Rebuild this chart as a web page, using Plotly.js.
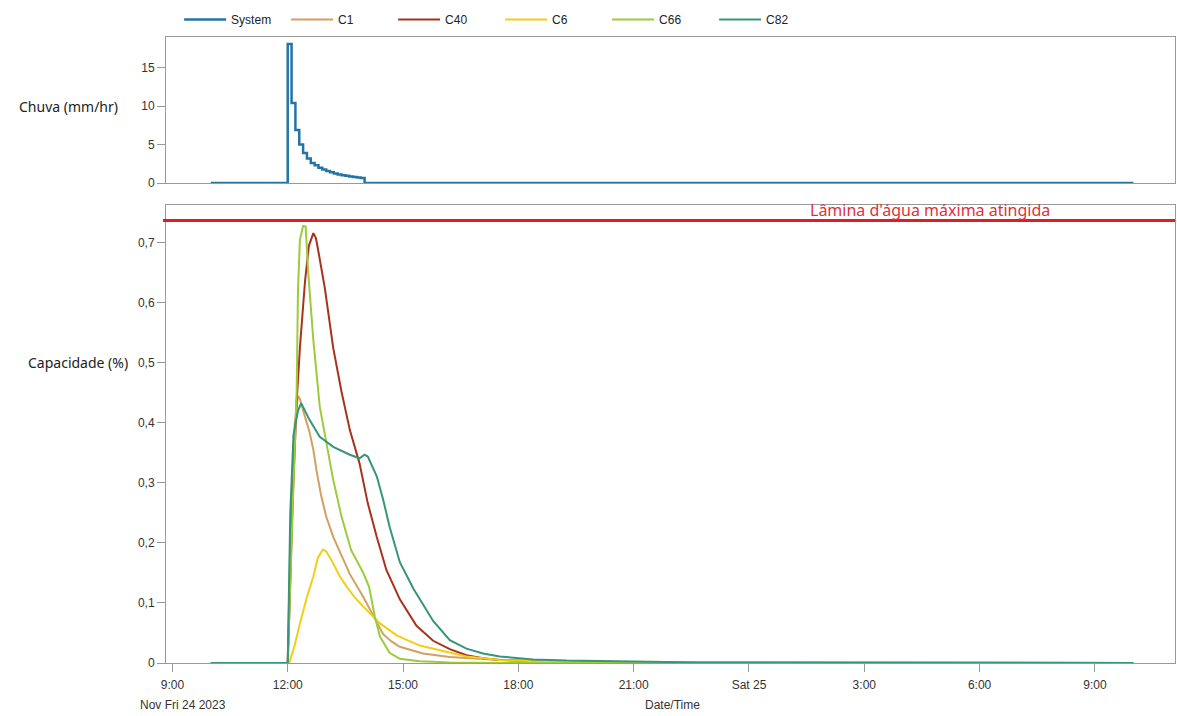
<!DOCTYPE html>
<html>
<head>
<meta charset="utf-8">
<script src="https://cdn.plot.ly/plotly-3.0.1.min.js"></script>
<style>html,body{margin:0;padding:0;background:#fff;}#chart{width:1177px;height:716px;}</style>
</head>
<body>
<div id="chart"></div>
<script>
// ---- Data (time in hours since 00:00 of Nov 24 2023) ----
const rainHours = [10, 12.0, 12.1, 12.2, 12.3, 12.4, 12.5, 12.6, 12.7, 12.8, 12.9, 13.0, 13.1, 13.2, 13.3, 13.4, 13.5, 13.6, 13.7, 13.8, 13.9, 14.0, 34];
const rainValues = [0, 18.1, 10.4, 6.9, 5.0, 3.9, 3.2, 2.6, 2.3, 2.0, 1.75, 1.55, 1.4, 1.25, 1.12, 1.02, 0.94, 0.86, 0.79, 0.72, 0.66, 0, 0];

const c1Hours = [10, 12.0, 12.078, 12.182, 12.26, 12.312, 12.442, 12.573, 12.66, 12.747, 12.87, 13.007, 13.18, 13.353, 13.614, 13.96, 14.22, 14.481, 14.7, 14.915, 15.522, 16.217, 17.518, 18.82, 20.12, 34];
const c1Values = [0, 0, 0.25, 0.40, 0.445, 0.44, 0.41, 0.385, 0.355, 0.32, 0.28, 0.244, 0.21, 0.185, 0.148, 0.11, 0.08, 0.048, 0.036, 0.027, 0.016, 0.010, 0.005, 0.002, 0.001, 0];

const c40Hours = [10, 12.0, 12.052, 12.13, 12.226, 12.312, 12.442, 12.547, 12.659, 12.729, 12.789, 12.963, 13.179, 13.398, 13.614, 13.874, 14.09, 14.309, 14.569, 14.915, 15.35, 15.782, 16.217, 16.651, 17.083, 17.518, 18.82, 20.12, 21.42, 34];
const c40Values = [0, 0, 0.10, 0.28, 0.436, 0.525, 0.636, 0.695, 0.716, 0.708, 0.691, 0.624, 0.525, 0.452, 0.388, 0.333, 0.266, 0.21, 0.155, 0.106, 0.062, 0.037, 0.023, 0.013, 0.008, 0.005, 0.002, 0.001, 0, 0];

const c6Hours = [10, 12.0, 12.052, 12.18, 12.312, 12.5, 12.659, 12.781, 12.877, 12.919, 13.007, 13.179, 13.35, 13.528, 13.75, 13.96, 14.395, 14.829, 15.436, 16.217, 16.651, 17.518, 18.82, 20.12, 34];
const c6Values = [0, 0, 0.002, 0.03, 0.066, 0.11, 0.144, 0.175, 0.186, 0.189, 0.186, 0.166, 0.145, 0.127, 0.109, 0.094, 0.066, 0.046, 0.029, 0.017, 0.011, 0.005, 0.002, 0.001, 0];

const c66Hours = [10, 12.0, 12.104, 12.226, 12.268, 12.312, 12.398, 12.468, 12.528, 12.659, 12.833, 13.007, 13.179, 13.398, 13.658, 13.96, 14.116, 14.264, 14.395, 14.655, 14.915, 15.436, 16.217, 17.518, 34];
const c66Values = [0, 0, 0.20, 0.455, 0.62, 0.705, 0.728, 0.727, 0.65, 0.538, 0.427, 0.37, 0.305, 0.244, 0.188, 0.150, 0.127, 0.077, 0.044, 0.017, 0.007, 0.003, 0.001, 0, 0];

const c82Hours = [10, 12.0, 12.065, 12.156, 12.26, 12.357, 12.573, 12.833, 13.179, 13.614, 13.874, 14.004, 14.09, 14.309, 14.481, 14.655, 14.915, 15.262, 15.782, 16.217, 16.651, 17.083, 17.518, 18.377, 19.253, 20.64, 22.72, 34];
const c82Values = [0, 0, 0.25, 0.38, 0.42, 0.433, 0.405, 0.377, 0.36, 0.347, 0.341, 0.347, 0.344, 0.311, 0.272, 0.227, 0.168, 0.124, 0.07, 0.038, 0.024, 0.016, 0.011, 0.006, 0.004, 0.003, 0.001, 0];

const maxLevel = 0.737;
const tickHours = [9, 12, 15, 18, 21, 24, 27, 30, 33];
const tickLabels = ['9:00', '12:00', '15:00', '18:00', '21:00', 'Sat 25', '3:00', '6:00', '9:00'];

// ---- helpers ----
function pad(n){ return (n < 10 ? '0' : '') + n; }
function toDate(h){
  const totalMin = Math.round(h * 60);
  const day = 24 + Math.floor(totalMin / 1440);
  const m = totalMin % 1440;
  return '2023-11-' + pad(day) + ' ' + pad(Math.floor(m / 60)) + ':' + pad(m % 60);
}
const conv = a => a.map(toDate);

const tickFont = {family: 'Liberation Sans, Arial, sans-serif', size: 12, color: '#333'};
const labelFont = {family: 'Noto Sans, sans-serif', size: 14, color: '#222'};

const traces = [
  {name: 'System', x: conv(rainHours), y: rainValues, xaxis: 'x2', yaxis: 'y2', mode: 'lines', line: {color: '#2574a6', width: 2.5, shape: 'hv'}},
  {name: 'C1', x: conv(c1Hours), y: c1Values, mode: 'lines', line: {color: '#d4a060', width: 2}},
  {name: 'C40', x: conv(c40Hours), y: c40Values, mode: 'lines', line: {color: '#a8321c', width: 2}},
  {name: 'C6', x: conv(c6Hours), y: c6Values, mode: 'lines', line: {color: '#f2cf14', width: 2}},
  {name: 'C66', x: conv(c66Hours), y: c66Values, mode: 'lines', line: {color: '#9ccb3c', width: 2}},
  {name: 'C82', x: conv(c82Hours), y: c82Values, mode: 'lines', line: {color: '#36957a', width: 2}}
];

const xRange = [toDate(8.825), toDate(35.09)];
const H = 626;

const layout = {
  width: 1177, height: 716,
  margin: {l: 166, r: 2, t: 37, b: 53},
  paper_bgcolor: '#fff', plot_bgcolor: '#fff',
  separators: ',.',
  showlegend: true,
  legend: {orientation: 'h', x: 0.013, xanchor: 'left', y: 1.028, yanchor: 'middle',
           font: {family: 'Liberation Sans, Arial, sans-serif', size: 12, color: '#222'},
           itemwidth: 42, entrywidth: 50, entrywidthmode: 'pixels', bgcolor: 'rgba(0,0,0,0)'},
  xaxis: {type: 'date', range: xRange, anchor: 'y', domain: [0, 1],
          tickvals: tickHours.map(toDate), ticktext: tickLabels, tickangle: 0,
          ticks: 'outside', ticklen: 8, tickcolor: '#999', tickfont: tickFont, ticklabelstandoff: 3,
          showline: true, linecolor: '#999', linewidth: 1, mirror: true, showgrid: false, zeroline: false},
  yaxis: {domain: [0, (663 - 205) / H], range: [0, 0.763], anchor: 'x',
          tickvals: [0, 0.1, 0.2, 0.3, 0.4, 0.5, 0.6, 0.7],
          ticks: 'outside', ticklen: 8, tickcolor: '#999', tickfont: tickFont,
          showline: true, linecolor: '#999', linewidth: 1, mirror: true, showgrid: false, zeroline: false},
  xaxis2: {type: 'date', range: xRange, anchor: 'y2', matches: 'x', showticklabels: false, ticks: '',
           showline: true, linecolor: '#999', linewidth: 1, mirror: true, showgrid: false, zeroline: false},
  yaxis2: {domain: [(663 - 183) / H, 1], range: [0, 19], anchor: 'x2',
           tickvals: [0, 5, 10, 15],
           ticks: 'outside', ticklen: 8, tickcolor: '#999', tickfont: tickFont,
           showline: true, linecolor: '#999', linewidth: 1, mirror: true, showgrid: false, zeroline: false},
  shapes: [
    {type: 'line', xref: 'paper', yref: 'y', x0: -0.003, x1: 1, y0: maxLevel, y1: maxLevel,
     line: {color: '#e31b23', width: 3}}
  ],
  annotations: [
    {text: "Lâmina d'água máxima atingida", xref: 'paper', yref: 'paper', x: (930 - 166) / 1009, y: (663 - 210) / H,
     xanchor: 'center', yanchor: 'middle', showarrow: false,
     font: {family: 'Noto Sans, sans-serif', size: 16, color: '#e0303a'}},
    {text: 'Chuva (mm/hr)', xref: 'paper', yref: 'y2', x: 0, y: 10, xanchor: 'right', yanchor: 'middle',
     xshift: -46, showarrow: false, font: labelFont},
    {text: 'Capacidade (%)', xref: 'paper', yref: 'y', x: 0, y: 0.5, xanchor: 'right', yanchor: 'middle',
     xshift: -36, showarrow: false, font: labelFont},
    {text: 'Nov Fri 24 2023', xref: 'paper', yref: 'paper', x: (183 - 166) / 1009, y: (663 - 705) / H,
     xanchor: 'center', yanchor: 'middle', showarrow: false, font: tickFont},
    {text: 'Date/Time', xref: 'paper', yref: 'paper', x: (672 - 166) / 1009, y: (663 - 705) / H,
     xanchor: 'center', yanchor: 'middle', showarrow: false, font: tickFont}
  ]
};

Plotly.newPlot('chart', traces, layout, {displayModeBar: false, responsive: false});
</script>
</body>
</html>
